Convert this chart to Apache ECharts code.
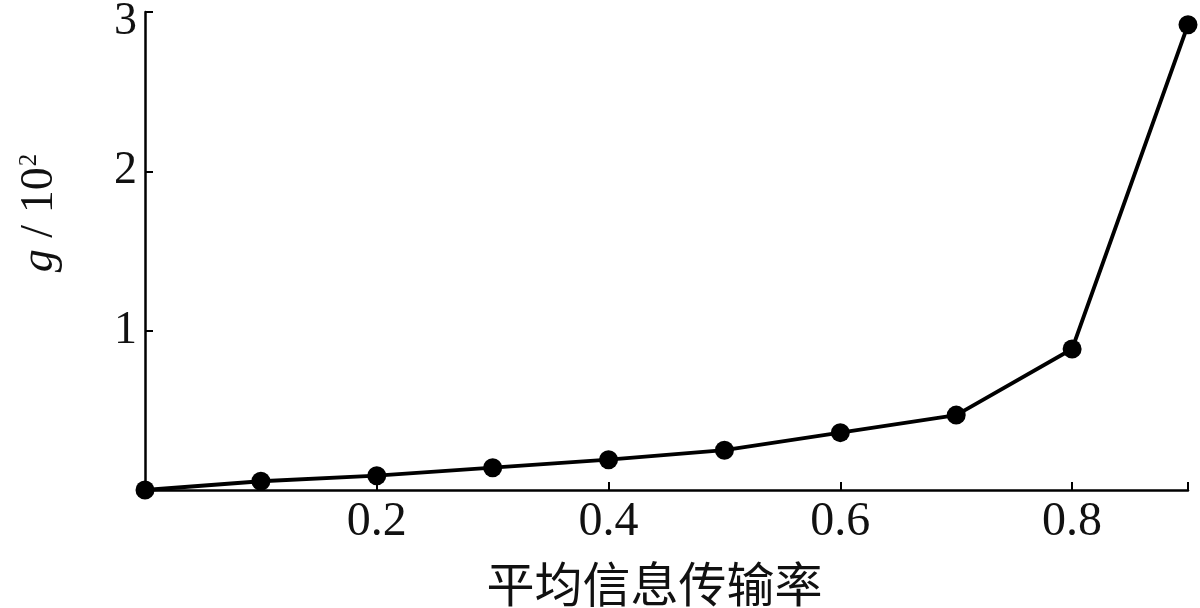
<!DOCTYPE html>
<html>
<head>
<meta charset="utf-8">
<script src="https://cdn.jsdelivr.net/npm/echarts@6/dist/echarts.min.js"></script>
<style>html,body{margin:0;padding:0;background:#fff}#c{width:1200px;height:608px}</style>
</head>
<body>
<div id="c"></div>
<script>
// Data
var xValues = [0, 0.1, 0.2, 0.3, 0.4, 0.5, 0.6, 0.7, 0.8, 0.9];
var gValues = [0, 0.055, 0.09, 0.14, 0.19, 0.25, 0.36, 0.47, 0.885, 2.92];
var xTickLabels = ['0.2', '0.4', '0.6', '0.8'];
var yTickLabels = ['1', '2', '3'];
var xAxisName = '平均信息传输率';

var serif = "'Liberation Serif', 'Times New Roman', 'DejaVu Serif', serif";
var chart = echarts.init(document.getElementById('c'));
var seriesData = xValues.map(function (x, i) { return [x, gValues[i]]; });

chart.setOption({
  animation: false,
  backgroundColor: '#fff',
  grid: { left: 145, right: 12, top: 12, bottom: 118, containLabel: false, outerBoundsMode: 'none' },
  xAxis: {
    type: 'value', min: 0, max: 0.9, interval: 0.2,
    name: xAxisName, nameLocation: 'middle', nameGap: 70,
    nameTextStyle: { fontFamily: "'Noto Sans CJK SC', sans-serif", fontSize: 48, color: '#111', padding: [0, 24, 0, 0] },
    axisLine: { lineStyle: { color: '#000', width: 2.5 } },
    axisTick: { inside: true, length: 8, lineStyle: { color: '#000', width: 2 } },
    splitLine: { show: false },
    axisLabel: {
      margin: 8, color: '#111', fontFamily: serif, fontSize: 48,
      formatter: function (v) {
        var s = (Math.round(v * 10) / 10).toFixed(1);
        return xTickLabels.indexOf(s) >= 0 ? s : '';
      }
    }
  },
  yAxis: {
    type: 'value', min: 0, max: 3, interval: 1,
    name: '{i|g} / 10{s|2}', nameLocation: 'middle', nameGap: 82, nameRotate: 90,
    nameTextStyle: {
      fontFamily: serif, fontSize: 46, color: '#111', padding: [0, 0, 0, 76],
      rich: {
        i: { fontFamily: serif, fontSize: 46, fontStyle: 'italic', color: '#111' },
        s: { fontFamily: serif, fontSize: 25, color: '#111', verticalAlign: 'top', padding: [0, 0, 20, 1] }
      }
    },
    axisLine: { show: true, lineStyle: { color: '#000', width: 2.5 } },
    axisTick: { show: true, inside: true, length: 8, lineStyle: { color: '#000', width: 2 } },
    splitLine: { show: false },
    axisLabel: {
      margin: 8, color: '#111', fontFamily: serif, fontSize: 46,
      formatter: function (v) {
        var s = String(Math.round(v));
        if (yTickLabels.indexOf(s) < 0) return '';
        return s === yTickLabels[yTickLabels.length - 1] ? '{top|' + s + '}' : s;
      },
      rich: {
        top: { fontFamily: serif, fontSize: 46, color: '#111', padding: [20, 0, 0, 0] }
      }
    }
  },
  series: [{
    type: 'line',
    data: seriesData,
    symbol: 'circle', symbolSize: 19,
    itemStyle: { color: '#000' },
    lineStyle: { color: '#000', width: 3.8 },
    clip: false
  }]
});
</script>
</body>
</html>
